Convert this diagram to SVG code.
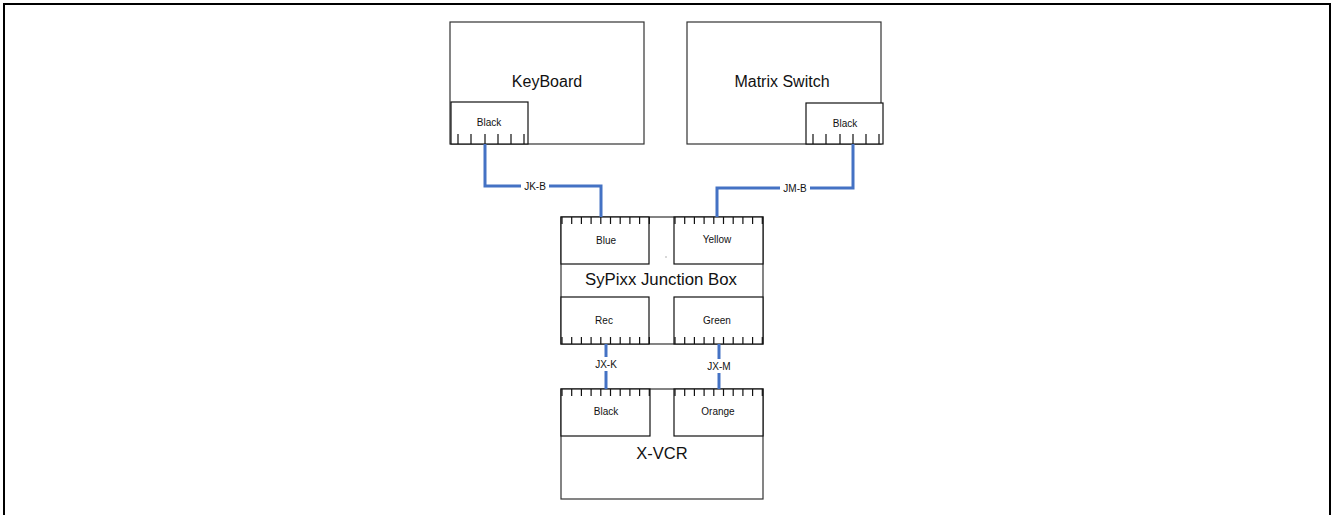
<svg xmlns="http://www.w3.org/2000/svg" width="1331" height="515" viewBox="0 0 1331 515">
<style>
.box{fill:#fff;stroke:#333;stroke-width:1.2}
.port{fill:#fff;stroke:#111;stroke-width:1.2}
.tick{stroke:#111;stroke-width:1.2}
.big{font-family:"Liberation Sans",Arial,sans-serif;font-size:16px;fill:#111;text-anchor:middle}
.small{font-family:"Liberation Sans",Arial,sans-serif;font-size:10px;fill:#111;text-anchor:middle}
.wire{fill:none;stroke:#4472C4;stroke-width:3}
.lbl{fill:#fff}
</style>
<defs>
<g id="t10down">
<path class="tick" d="M1 0v7M10.7 0v7M20.4 0v7M30.1 0v7M39.8 0v7M49.5 0v7M59.2 0v7M68.9 0v7M78.6 0v7M88.3 0v7"/>
</g>
<g id="t6up">
<path class="tick" d="M7 0v-10M20 0v-10M34 0v-10M47 0v-10M60 0v-10M73 0v-10"/>
</g>
</defs>
<rect x="4" y="4" width="1326" height="530" fill="#fff" stroke="#000" stroke-width="2"/>

<g id="keyboard">
<rect class="box" x="450" y="22" width="194" height="122"/>
<text class="big" x="547" y="87">KeyBoard</text>
<rect class="port" x="451" y="102" width="77" height="42"/>
<text class="small" x="489" y="126">Black</text>
<use href="#t6up" x="451" y="144"/>
</g>

<g id="matrix">
<rect class="box" x="687" y="22" width="194" height="122"/>
<text class="big" x="782" y="87">Matrix Switch</text>
<rect class="port" x="806" y="103" width="77" height="41"/>
<text class="small" x="845" y="127">Black</text>
<use href="#t6up" x="806" y="144"/>
</g>

<g id="junction">
<rect class="box" x="561" y="217" width="202" height="127"/>
<rect class="port" x="561" y="217" width="88" height="47"/>
<use href="#t10down" x="561" y="217"/>
<text class="small" x="606" y="244">Blue</text>
<rect class="port" x="674" y="217" width="89" height="47"/>
<use href="#t10down" x="674" y="217"/>
<text class="small" x="717" y="243">Yellow</text>
<text class="big" x="661" y="285" style="font-size:16.8px">SyPixx Junction Box</text>
<rect class="port" x="561" y="297" width="88" height="47"/>
<use href="#t10down" x="561" y="344" transform="translate(0,688) scale(1,-1)"/>
<text class="small" x="604" y="324">Rec</text>
<rect class="port" x="674" y="297" width="89" height="47"/>
<use href="#t10down" x="674" y="344" transform="translate(0,688) scale(1,-1)"/>
<text class="small" x="717" y="324">Green</text>
<rect x="665.5" y="256.5" width="1" height="1" fill="#666"/>
</g>

<g id="xvcr">
<rect class="box" x="561" y="389" width="202" height="110"/>
<rect class="port" x="561" y="389" width="89" height="47"/>
<use href="#t10down" x="561" y="389"/>
<text class="small" x="606" y="415">Black</text>
<rect class="port" x="674" y="389" width="89" height="47"/>
<use href="#t10down" x="674" y="389"/>
<text class="small" x="718" y="415">Orange</text>
<text class="big" x="662" y="459" style="font-size:16.5px">X-VCR</text>
</g>

<g id="connectors">
<path class="wire" d="M485 144V186H601V217"/>
<rect class="lbl" x="521" y="180" width="28" height="12"/>
<text class="small" x="535" y="190">JK-B</text>
<path class="wire" d="M853 144V188H717V217"/>
<rect class="lbl" x="780" y="182" width="30" height="12"/>
<text class="small" x="795" y="192">JM-B</text>
<path class="wire" d="M606 344V389"/>
<rect class="lbl" x="592" y="357" width="28" height="14"/>
<text class="small" x="606" y="368">JX-K</text>
<path class="wire" d="M719 344V389"/>
<rect class="lbl" x="704" y="359" width="30" height="14"/>
<text class="small" x="719" y="370">JX-M</text>
</g>
</svg>
